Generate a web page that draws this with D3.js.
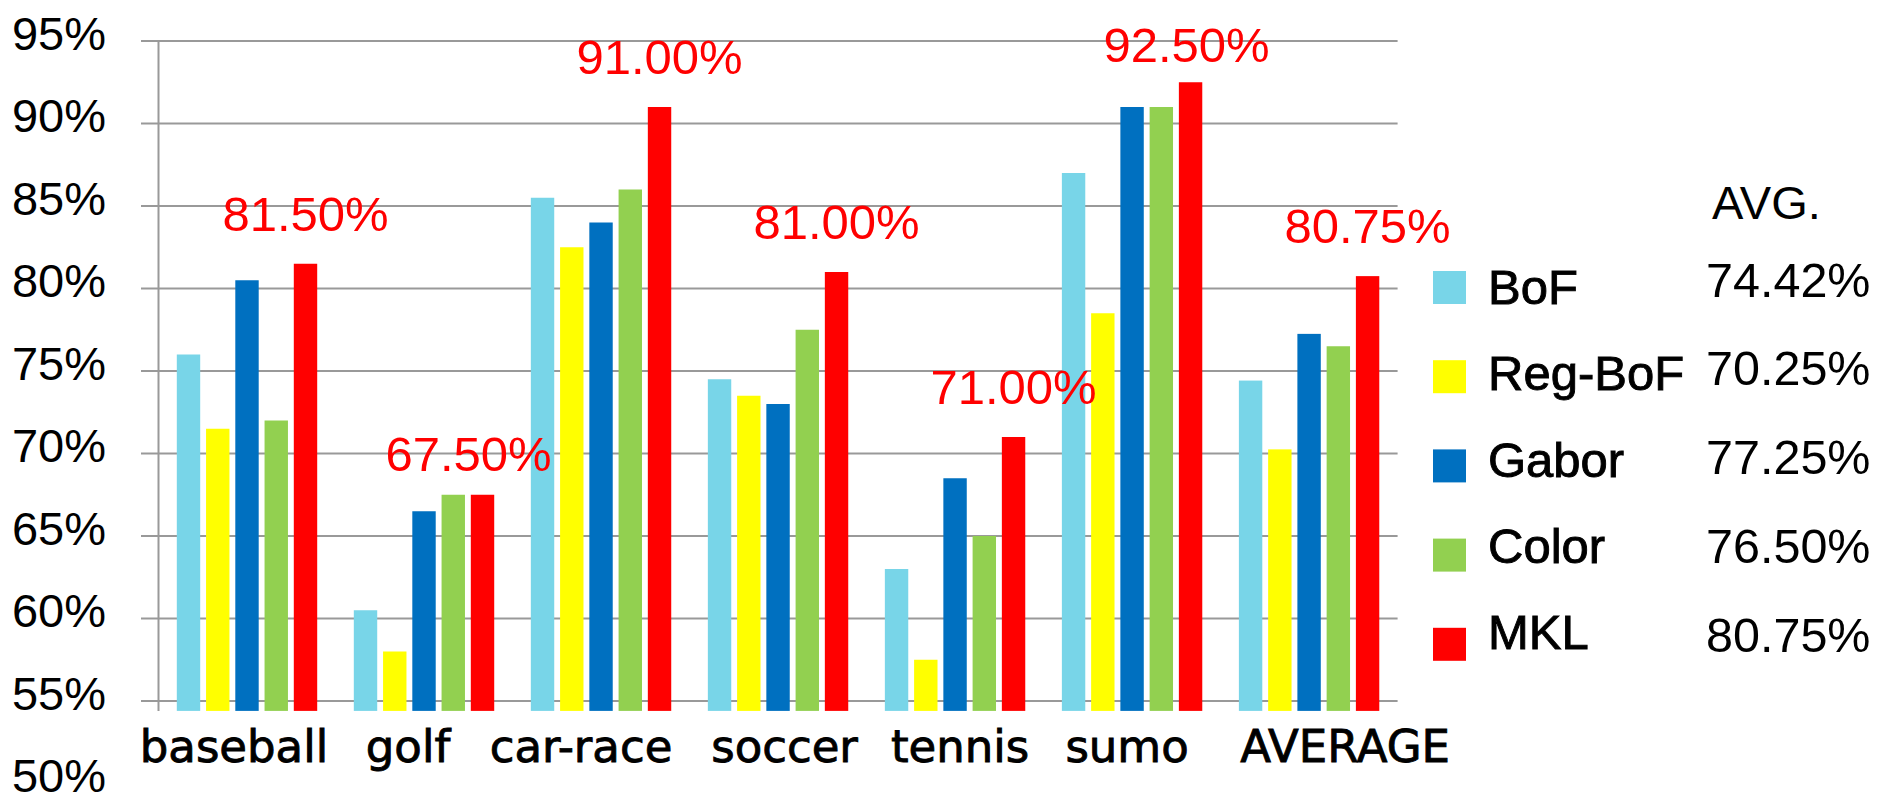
<!DOCTYPE html>
<html>
<head>
<meta charset="utf-8">
<script src="https://cdn.jsdelivr.net/npm/d3@7"></script>
<style>
  html, body { margin: 0; padding: 0; background: #fff; }
  svg { display: block; }
</style>
</head>
<body>
<svg id="chart" width="1879" height="796"></svg>
<script>
// Categories and per-method recognition rates (%)
const categories = ["baseball", "golf", "car-race", "soccer", "tennis", "sumo", "AVERAGE"];
const seriesNames = ["BoF", "Reg-BoF", "Gabor", "Color", "MKL"];
const bofValues    = [76, 60.5, 85.5, 74.5, 63, 87, 74.42];
const regBofValues = [71.5, 58, 82.5, 73.5, 57.5, 78.5, 70.25];
const gaborValues  = [80.5, 66.5, 84, 73, 68.5, 91, 77.25];
const colorValues  = [72, 67.5, 86, 77.5, 65, 91, 76.5];
const mklValues    = [81.5, 67.5, 91, 81, 71, 92.5, 80.75];
const yTickValues  = [50, 55, 60, 65, 70, 75, 80, 85, 90, 95];
const avgHeader = "AVG.";

const seriesValues = [bofValues, regBofValues, gaborValues, colorValues, mklValues];
const seriesColors = ["#78D5E8", "#FFFF00", "#0070C0", "#92D050", "#FF0000"];

const svg = d3.select("#chart");
const fmt = v => v.toFixed(2) + "%";

// Scales
const y = d3.scaleLinear().domain([50, 95]).range([783.5, 41]);
const barBase = 54.4;             // bars start just below the 55% line
const x0 = d3.scaleBand().domain(categories).range([158.5, 1397.6]);
const x1 = d3.scaleBand().domain(seriesNames).range([18.3, 158.7]).paddingInner(0.2);

// Horizontal gridlines (55% .. 95%)
const gridTicks = yTickValues.filter(v => v >= 55);
svg.append("g").selectAll("line").data(gridTicks).join("line")
  .attr("x1", 141).attr("x2", 1397.6)
  .attr("y1", d => y(d)).attr("y2", d => y(d))
  .attr("stroke", "#999").attr("stroke-width", 2);

// Vertical axis line
svg.append("line")
  .attr("x1", 158.5).attr("x2", 158.5)
  .attr("y1", y(95)).attr("y2", y(barBase))
  .attr("stroke", "#999").attr("stroke-width", 2);

// Y tick labels
svg.append("g").selectAll("text").data(yTickValues).join("text")
  .attr("x", 106).attr("y", d => y(d) - 8)
  .attr("text-anchor", "end").attr("dominant-baseline", "central")
  .attr("font-family", "'Liberation Sans', Arial, sans-serif")
  .attr("font-size", 47).attr("fill", "#000")
  .text(d => d + "%");

// Bars
const groups = svg.append("g").selectAll("g").data(categories).join("g")
  .attr("transform", d => `translate(${x0(d)},0)`);
groups.selectAll("rect")
  .data((c, ci) => seriesNames.map((s, si) => ({ s, si, v: seriesValues[si][ci] })))
  .join("rect")
  .attr("x", d => x1(d.s))
  .attr("width", x1.bandwidth())
  .attr("y", d => y(d.v))
  .attr("height", d => y(barBase) - y(d.v))
  .attr("fill", d => seriesColors[d.si]);

// MKL value labels above the red bars
const labelNudge = { golf: [-14, 9], sumo: [-4, 13] };
svg.append("g").selectAll("text").data(categories).join("text")
  .attr("x", (c) => x0(c) + x1("MKL") + x1.bandwidth() / 2 + (labelNudge[c] ? labelNudge[c][0] : 0))
  .attr("y", (c, i) => y(mklValues[i]) - 33 + (labelNudge[c] ? labelNudge[c][1] : 0))
  .attr("text-anchor", "middle")
  .attr("font-family", "'Liberation Sans', Arial, sans-serif")
  .attr("font-size", 49).attr("fill", "#FF0000")
  .text((c, i) => fmt(mklValues[i]));

// Category labels under each group (hand-spaced along the baseline)
const catShift = { baseball: -13, golf: -16, "car-race": -20, soccer: 6.5, tennis: 5, sumo: -5, AVERAGE: 36 };
svg.append("g").selectAll("text").data(categories).join("text")
  .attr("x", d => x0(d) + x0.bandwidth() / 2 + catShift[d])
  .attr("y", 761.7)
  .attr("text-anchor", "middle")
  .attr("font-family", "'DejaVu Sans', sans-serif")
  .attr("font-size", 45).attr("fill", "#000")
  .attr("stroke", "#000").attr("stroke-width", 0.9)
  .text(d => d);

// Legend
const legend = svg.append("g");
const swatchY = i => 271 + i * 89.2;
const labelY = i => 304 + i * 86.3;
const valueY = i => 296.7 + i * 88.75;
legend.selectAll("rect").data(seriesNames).join("rect")
  .attr("x", 1433).attr("y", (d, i) => swatchY(i))
  .attr("width", 33).attr("height", 33)
  .attr("fill", (d, i) => seriesColors[i]);
legend.selectAll("text.lab").data(seriesNames).join("text")
  .attr("class", "lab")
  .attr("x", 1488).attr("y", (d, i) => labelY(i))
  .attr("font-family", "'Liberation Sans', Arial, sans-serif")
  .attr("font-size", 49).attr("fill", "#000")
  .attr("stroke", "#000").attr("stroke-width", 0.9)
  .text(d => d);
legend.append("text")
  .attr("x", 1712).attr("y", 219)
  .attr("font-family", "'Liberation Sans', Arial, sans-serif")
  .attr("font-size", 47).attr("fill", "#000")
  .text(avgHeader);
legend.selectAll("text.val").data(seriesNames).join("text")
  .attr("class", "val")
  .attr("x", 1706).attr("y", (d, i) => valueY(i))
  .attr("font-family", "'Liberation Sans', Arial, sans-serif")
  .attr("font-size", 48.5).attr("fill", "#000")
  .text((d, i) => fmt(seriesValues[i][categories.length - 1]));
</script>
</body>
</html>
